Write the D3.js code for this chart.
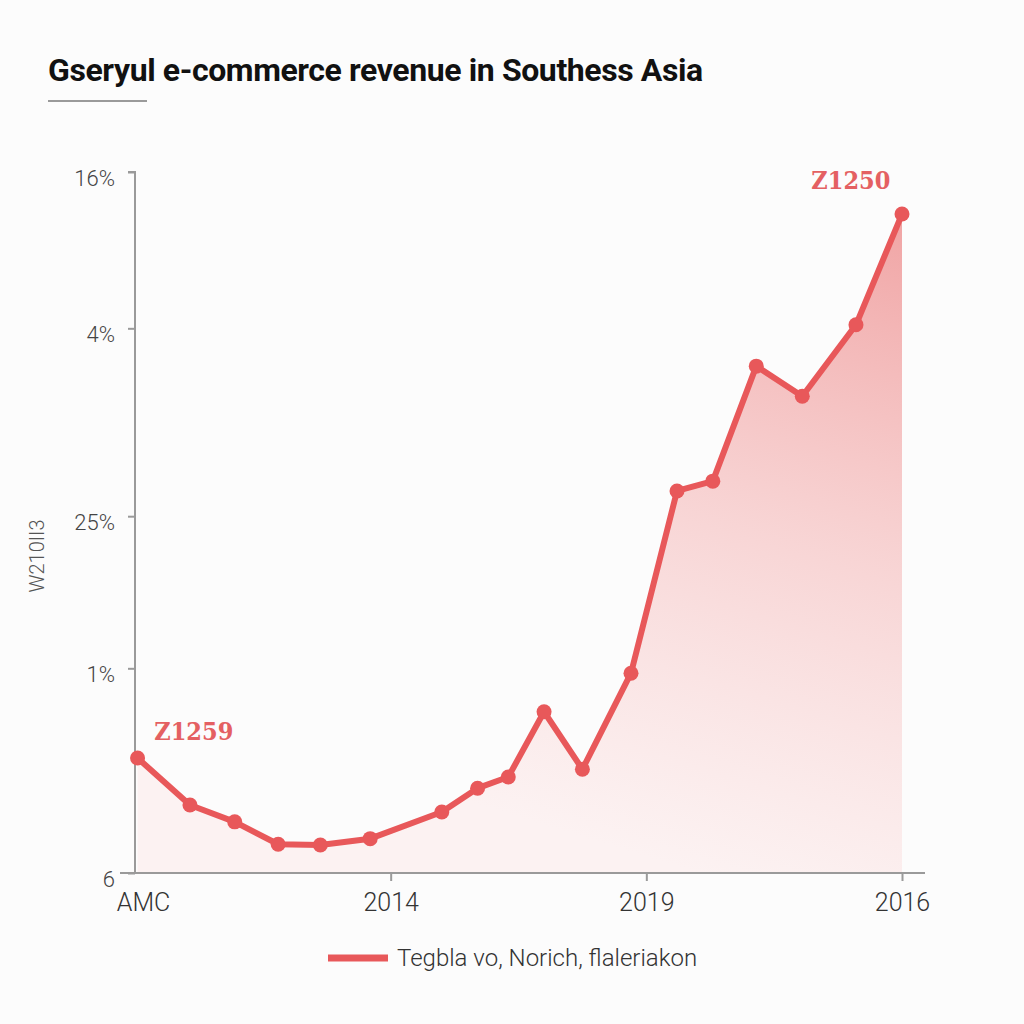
<!DOCTYPE html>
<html>
<head>
<meta charset="utf-8">
<script src="https://cdn.jsdelivr.net/npm/d3@7/dist/d3.min.js"></script>
<style>
html,body{margin:0;padding:0;background:#fcfcfc;}
svg{display:block;}
</style>
</head>
<body>
<svg id="chart" width="1024" height="1024"></svg>
<script>
const title = "Gseryul e-commerce revenue in Southess Asia";
const yAxisTitle = "W210II3";
const legendLabel = "Tegbla vo, Norich, flaleriakon";

const xValues = [0.1, 2.15, 3.9, 5.6, 7.25, 9.2, 12.0, 13.4, 14.6, 16.0, 17.5, 19.4, 21.2, 22.6, 24.3, 26.1, 28.2, 30];
const yValues = [16.4, 9.7, 7.3, 4.1, 4.0, 4.9, 8.7, 12.1, 13.7, 23.0, 14.8, 28.5, 54.5, 55.9, 72.3, 68.0, 78.2, 94.0];

const xTickValues = [0, 10, 20, 30];
const xTickLabels = ["AMC", "2014", "2019", "2016"];
const yTickValues = [0, 29.2, 50.9, 77.7, 100];
const yTickLabels = ["6", "1%", "25%", "4%", "16%"];

const annotations = [
  {x: 2.3, y: 19.0, text: "Z1259"},
  {x: 28.0, y: 97.6, text: "Z1250"}
];

const data = xValues.map((x, i) => ({x, y: yValues[i]}));

const svg = d3.select("#chart");
const red = "#e8585a";

const x = d3.scaleLinear().domain([0, 30]).range([135, 902]);
const y = d3.scaleLinear().domain([0, 100]).range([873, 172]);

// gradient
const defs = svg.append("defs");
const grad = defs.append("linearGradient").attr("id", "areaGrad")
  .attr("gradientUnits", "userSpaceOnUse")
  .attr("x1", x(30)).attr("y1", y(94)).attr("x2", x(22)).attr("y2", y(0));
grad.append("stop").attr("offset", 0).attr("stop-color", "#ef9a9a").attr("stop-opacity", 0.9);
grad.append("stop").attr("offset", 0.5).attr("stop-color", "#f6c4c4").attr("stop-opacity", 0.7);
grad.append("stop").attr("offset", 1).attr("stop-color", "#fce8e8").attr("stop-opacity", 0.5);

// title
svg.append("text").attr("x", 48).attr("y", 81)
  .attr("font-family", "Roboto, 'Liberation Sans', sans-serif")
  .attr("font-weight", 700).attr("font-size", 32)
  .attr("fill", "#111").attr("letter-spacing", -0.4)
  .text(title);
svg.append("line").attr("x1", 48).attr("x2", 147).attr("y1", 101).attr("y2", 101)
  .attr("stroke", "#9a9a9a").attr("stroke-width", 2);

// area
const area = d3.area().x(d => x(d.x)).y0(y(0)).y1(d => y(d.y));
svg.append("path").datum(data).attr("d", area).attr("fill", "url(#areaGrad)");

// axes
const yAxis = d3.axisLeft(y).tickValues(yTickValues).tickSize(7)
  .tickFormat((d, i) => yTickLabels[i]);
const gy = svg.append("g").attr("transform", `translate(${x(0)},0)`).call(yAxis);
gy.select(".domain").attr("stroke", "#9a9a9a").attr("stroke-width", 2)
  .attr("d", `M-7,${y(100)}H0V${y(0)}`);
gy.selectAll(".tick line").attr("stroke", "#9a9a9a").attr("stroke-width", 2);
gy.selectAll(".tick text").attr("font-family", "Roboto, 'Liberation Sans', sans-serif")
  .attr("font-weight", 300).attr("font-size", 22).attr("fill", "#444")
  .attr("x", -20).attr("dy", "0.6em");

const xAxis = d3.axisBottom(x).tickValues(xTickValues).tickSize(8)
  .tickFormat((d, i) => xTickLabels[i]);
const gx = svg.append("g").attr("transform", `translate(0,${y(0)})`).call(xAxis);
gx.select(".domain").attr("stroke", "#9a9a9a").attr("stroke-width", 2)
  .attr("d", `M120,0H925`);
gx.selectAll(".tick line").attr("stroke", "#9a9a9a").attr("stroke-width", 2);
gx.selectAll(".tick").filter((d, i) => i === 0).select("line").remove();
gx.selectAll(".tick text").attr("font-family", "Roboto, sans-serif")
  .attr("font-weight", 300).attr("font-size", 25).attr("fill", "#333")
  .attr("y", 20);
gx.selectAll(".tick").filter((d, i) => i === 0).select("text").attr("dx", 8);

// y axis title
svg.append("text").attr("transform", "translate(44,556) rotate(-90)")
  .attr("text-anchor", "middle")
  .attr("font-family", "Roboto, sans-serif")
  .attr("font-weight", 300)
  .attr("font-size", 20).attr("fill", "#555")
  .text(yAxisTitle);

// line
const line = d3.line().x(d => x(d.x)).y(d => y(d.y));
svg.append("path").datum(data).attr("d", line)
  .attr("fill", "none").attr("stroke", red).attr("stroke-width", 6)
  .attr("stroke-linejoin", "round").attr("stroke-linecap", "round");

svg.selectAll("circle.pt").data(data).join("circle").attr("class", "pt")
  .attr("cx", d => x(d.x)).attr("cy", d => y(d.y)).attr("r", 7.5)
  .attr("fill", red);

// annotations
svg.selectAll("text.ann").data(annotations).join("text").attr("class", "ann")
  .attr("x", d => x(d.x)).attr("y", d => y(d.y))
  .attr("text-anchor", "middle")
  .attr("font-family", "'DejaVu Serif Condensed', 'DejaVu Serif', serif")
  .attr("font-weight", 700).attr("font-size", 25).attr("fill", "#e46062")
  .text(d => d.text);

// legend
svg.append("line").attr("x1", 328).attr("x2", 388).attr("y1", 958).attr("y2", 958)
  .attr("stroke", red).attr("stroke-width", 7);
svg.append("text").attr("x", 397).attr("y", 966)
  .attr("font-family", "Roboto, 'Liberation Sans', sans-serif")
  .attr("font-weight", 300).attr("font-size", 24).attr("fill", "#333")
  .text(legendLabel);
</script>
</body>
</html>
